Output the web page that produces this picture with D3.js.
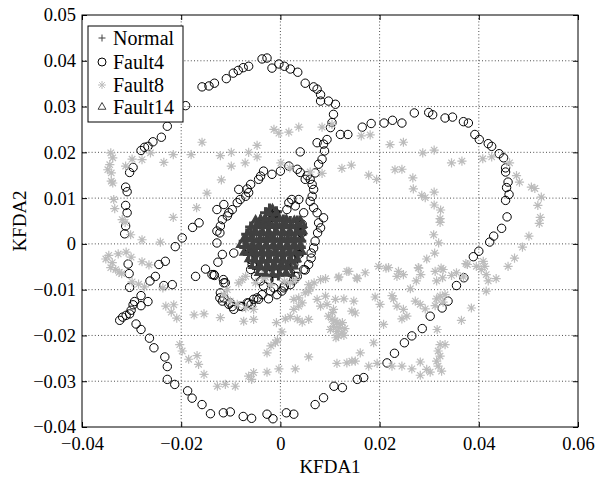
<!DOCTYPE html>
<html>
<head>
<meta charset="utf-8">
<script src="https://cdn.jsdelivr.net/npm/d3@7"></script>
<style>
  body { margin: 0; background: #fff; }
  svg text { font-family: "Liberation Serif", "Times New Roman", Times, "DejaVu Serif", "Noto Serif", serif; fill: #000; }
</style>
</head>
<body>
<div id="chart"></div>
<script>
// ticks
var xTicks = [-0.04, -0.02, 0, 0.02, 0.04, 0.06]
var xTickLabels = ["\u22120.04", "\u22120.02", "0", "0.02", "0.04", "0.06"]
var yTicks = [-0.04, -0.03, -0.02, -0.01, 0, 0.01, 0.02, 0.03, 0.04, 0.05]
var yTickLabels = ["\u22120.04", "\u22120.03", "\u22120.02", "\u22120.01", "0", "0.01", "0.02", "0.03", "0.04", "0.05"]
var seriesNames = ["Normal", "Fault4", "Fault8", "Fault14"]

// Normal (+)
var normal = [
  [-0.0030,0.0068],[-0.0017,0.0066],[-0.0022,0.0076],[-0.0008,0.0070],
  [-0.0040,0.0052],[-0.0030,0.0055],[-0.0022,0.0054],[-0.0008,0.0050],[0.0006,0.0052],[0.0020,0.0049],[0.0034,0.0050],
  [-0.0060,0.0037],[-0.0050,0.0038],[-0.0036,0.0035],[-0.0022,0.0038],[-0.0008,0.0036],[0.0006,0.0038],[0.0020,0.0035],[0.0034,0.0037],[0.0042,0.0036],
  [-0.0068,0.0021],[-0.0054,0.0023],[-0.0040,0.0020],[-0.0026,0.0023],[-0.0012,0.0021],[0.0002,0.0022],[0.0016,0.0020],[0.0030,0.0023],[0.0042,0.0021],
  [-0.0073,0.0006],[-0.0057,0.0008],[-0.0042,0.0005],[-0.0028,0.0007],[-0.0014,0.0006],[0.0000,0.0008],[0.0014,0.0005],[0.0028,0.0007],[0.0041,0.0006],
  [-0.0072,-0.0008],[-0.0054,-0.0010],[-0.0040,-0.0008],[-0.0026,-0.0009],[-0.0012,-0.0007],[0.0002,-0.0010],[0.0016,-0.0008],[0.0030,-0.0009],[0.0040,-0.0007],
  [-0.0064,-0.0023],[-0.0048,-0.0025],[-0.0034,-0.0022],[-0.0020,-0.0024],[-0.0006,-0.0023],[0.0008,-0.0025],[0.0022,-0.0023],[0.0036,-0.0024],
  [-0.0056,-0.0038],[-0.0040,-0.0040],[-0.0026,-0.0037],[-0.0012,-0.0039],[0.0002,-0.0038],[0.0016,-0.0040],[0.0030,-0.0038],
  [-0.0046,-0.0054],[-0.0030,-0.0056],[-0.0016,-0.0054],[-0.0002,-0.0055],[0.0012,-0.0053],[0.0022,-0.0052],
  [-0.0032,-0.0069],[-0.0018,-0.0071],[-0.0004,-0.0068]
]

// Fault4 (o)
var fault4 = [
  [-0.0281,0.0204],[-0.0274,0.0211],[-0.0267,0.0213],[-0.0257,0.0223],[-0.0240,0.0233],[-0.0228,0.0257],[-0.0191,0.0302],
  [-0.0297,0.0167],[-0.0304,0.0156],[-0.0312,0.0124],[-0.0309,0.0114],[-0.0312,0.0084],[-0.0309,0.0068],[-0.0312,0.0039],[-0.0314,0.0022],
  [-0.0307,-0.0044],[-0.0305,-0.0065],[-0.0304,-0.0095],
  [-0.0281,-0.0113],[-0.0294,-0.0126],[-0.0297,-0.0133],[-0.0267,-0.0126],[-0.0281,-0.0135],[-0.0301,-0.0145],[-0.0304,-0.0153],
  [-0.0311,-0.0156],[-0.0318,-0.0160],[-0.0324,-0.0167],[-0.0291,-0.0175],[-0.0281,-0.0187],[-0.0264,-0.0206],[-0.0255,-0.0227],
  [-0.0233,-0.0247],[-0.0228,-0.0268],[-0.0228,-0.0296],[-0.0213,-0.0307],[-0.0187,-0.0321],[-0.0178,-0.0337],[-0.0158,-0.0351],
  [-0.0141,-0.0371],[-0.0115,-0.0369],[-0.0101,-0.0367],[-0.0075,-0.0377],[-0.0058,-0.0381],[-0.0027,-0.0372],[-0.0015,-0.0382],
  [0.0012,-0.0369],[0.0027,-0.0372],[0.0070,-0.0351],[0.0087,-0.0336],[0.0108,-0.0311],[0.0125,-0.0314],[0.0155,-0.0296],
  [0.0168,-0.0292],[0.0215,-0.0260],[0.0230,-0.0239],[0.0250,-0.0216],[0.0265,-0.0201],[0.0286,-0.0185],[0.0302,-0.0158],
  [0.0326,-0.0140],[0.0338,-0.0125],[0.0355,-0.0091],[0.0370,-0.0074],[0.0389,-0.0028],[0.0400,-0.0016],[0.0422,0.0004],
  [0.0430,0.0017],[0.0446,0.0034],[0.0457,0.0059],[0.0454,0.0095],[0.0461,0.0108],[0.0456,0.0123],[0.0459,0.0135],
  [0.0454,0.0157],[0.0454,0.0166],[0.0450,0.0188],[0.0441,0.0197],[0.0426,0.0213],[0.0419,0.0219],[0.0401,0.0228],
  [0.0392,0.0239],[0.0379,0.0264],[0.0369,0.0267],[0.0347,0.0277],[0.0332,0.0275],[0.0307,0.0282],[0.0299,0.0287],
  [0.0270,0.0286],[0.0245,0.0264],[0.0226,0.0270],[0.0209,0.0264],[0.0183,0.0263],[0.0165,0.0255],[0.0136,0.0239],[0.0121,0.0239],
  [-0.0263,-0.0081],[-0.0252,-0.0071],[-0.0245,-0.0045],[-0.0232,-0.0038],[-0.0218,-0.0089],[-0.0235,-0.0091],[-0.0212,-0.0006],
  [-0.0198,0.0013],[-0.0177,0.0036],[-0.0164,0.0046],[-0.0171,-0.0071],
  [-0.0158,0.0343],[-0.0144,0.0345],[-0.0133,0.0351],[-0.0109,0.0361],[-0.0095,0.0373],[-0.0085,0.0379],[-0.0075,0.0385],
  [-0.0064,0.0388],[-0.0037,0.0404],[-0.0027,0.0406],[-0.0017,0.0384],[-0.0003,0.0393],[0.0008,0.0388],[0.0020,0.0382],
  [0.0035,0.0375],[0.0050,0.0351],[0.0067,0.0343],[0.0074,0.0338],[0.0081,0.0326],[0.0081,0.0312],[0.0097,0.0312],
  [0.0111,0.0305],[0.0107,0.0283],[0.0104,0.0265],[0.0101,0.0254],
  [0.0094,0.0228],[0.0074,0.0221],[0.0087,0.0218],[0.0089,0.0203],[0.0040,0.0201],[0.0084,0.0185],[0.0077,0.0174],
  [0.0070,0.0155],[0.0060,0.0141],[0.0064,0.0130],[0.0067,0.0119],[0.0064,0.0104],[0.0060,0.0093],[0.0067,0.0079],
  [0.0074,0.0068],[0.0087,0.0057],[0.0077,0.0046],[0.0081,0.0035],[0.0075,0.0024],[0.0070,0.0006],[0.0067,-0.0009],
  [0.0062,-0.0020],[0.0062,-0.0031],[0.0057,-0.0045],[0.0050,-0.0057],[0.0034,-0.0071],[0.0027,-0.0079],[0.0020,-0.0089],
  [0.0008,-0.0092],[0.0003,-0.0103],[-0.0013,-0.0096],[-0.0020,-0.0103],[-0.0024,-0.0120],[-0.0037,-0.0111],[-0.0044,-0.0121],
  [-0.0054,-0.0121],[-0.0059,-0.0132],[-0.0067,-0.0129],[-0.0077,-0.0137],[-0.0094,-0.0143],[-0.0097,-0.0137],[-0.0104,-0.0132],
  [-0.0117,-0.0125],[-0.0122,-0.0118],[-0.0114,-0.0085],[-0.0115,-0.0078],[-0.0133,-0.0069],[-0.0138,-0.0067],[-0.0151,-0.0055],
  [-0.0126,-0.0040],[-0.0117,-0.0023],[-0.0094,-0.0020],[-0.0128,0.0002],[-0.0122,0.0024],[-0.0121,0.0039],[-0.0117,0.0053],[-0.0128,0.0028],
  [-0.0107,0.0061],[-0.0104,0.0068],[-0.0097,0.0075],[-0.0128,0.0075],[-0.0114,0.0086],[-0.0087,0.0090],[-0.0081,0.0097],
  [-0.0070,0.0104],[-0.0064,0.0112],[-0.0084,0.0119],[-0.0067,0.0120],[-0.0060,0.0130],[-0.0044,0.0141],[-0.0040,0.0148],
  [-0.0034,0.0159],[-0.0017,0.0152],[0.0000,0.0159],[0.0017,0.0170],[0.0034,0.0163],[0.0040,0.0156],[0.0050,0.0141],[0.0054,0.0149],
  [0.0017,0.0090],[0.0023,0.0097],[0.0037,0.0097],[0.0030,0.0083],[0.0013,0.0075],[0.0047,0.0068],[0.0044,0.0043],
  [-0.0010,0.0068],[-0.0013,0.0061],[-0.0020,0.0057],[0.0043,0.0024],[0.0040,0.0044],[0.0037,-0.0023],[0.0027,-0.0045],
  [0.0020,-0.0063],[0.0030,-0.0071],[0.0047,-0.0056],[-0.0064,-0.0009],[-0.0060,-0.0034],[-0.0057,-0.0045],[-0.0060,-0.0056],
  [-0.0050,-0.0071],[-0.0040,-0.0081],[-0.0023,-0.0078],[-0.0013,-0.0060],[0.0007,-0.0096],[-0.0007,-0.0111],[-0.0034,-0.0092],
  [-0.0047,-0.0118],[-0.0064,-0.0129],[-0.0081,-0.0136],[-0.0101,-0.0129],[-0.0114,-0.0118],[-0.0121,-0.0107],[-0.0111,-0.0085],
  [-0.0134,-0.0067]
]

// Fault8 (*)
var fault8 = [
  [-0.0342,0.0199],[-0.0338,0.0188],[-0.0344,0.0173],[-0.0348,0.0162],[-0.0341,0.0155],[-0.0341,0.0137],[-0.0338,0.0133],
  [-0.0312,0.0170],[-0.0299,0.0185],[-0.0279,0.0184],[-0.0262,0.0199],[-0.0235,0.0178],[-0.0216,0.0195],[-0.0180,0.0195],
  [-0.0158,0.0222],[-0.0121,0.0193],[-0.0099,0.0200],[-0.0099,0.0170],[-0.0071,0.0177],[-0.0064,0.0200],[-0.0047,0.0215],
  [-0.0047,0.0190],[-0.0119,0.0140],[-0.0148,0.0111],[-0.0169,0.0079],[-0.0216,0.0058],[-0.0336,0.0097],[-0.0334,0.0077],
  [-0.0319,0.0053],[-0.0313,0.0047],[-0.0302,0.0020],[-0.0279,0.0009],[-0.0242,0.0004],
  [-0.0346,-0.0025],[-0.0352,-0.0033],[-0.0339,-0.0041],[-0.0342,-0.0052],[-0.0332,-0.0056],[-0.0325,-0.0062],[-0.0320,-0.0065],
  [-0.0327,-0.0022],[-0.0311,-0.0018],[-0.0301,-0.0029],[-0.0279,-0.0039],[-0.0265,-0.0046],[-0.0299,-0.0083],[-0.0286,-0.0088],
  [-0.0274,-0.0094],[-0.0237,-0.0096],[-0.0231,-0.0136],[-0.0215,-0.0133],[-0.0220,-0.0149],[-0.0209,-0.0162],[-0.0174,-0.0155],
  [-0.0154,-0.0153],[-0.0203,-0.0220],[-0.0198,-0.0234],[-0.0185,-0.0252],[-0.0168,-0.0244],[-0.0165,-0.0263],[-0.0154,-0.0285],
  [-0.0127,-0.0311],[-0.0111,-0.0307],[-0.0091,-0.0311],[-0.0064,-0.0289],[-0.0058,-0.0296],[-0.0054,-0.0281],[-0.0027,-0.0280],
  [-0.0003,-0.0273],[0.0030,-0.0273],[-0.0027,-0.0238],[-0.0019,-0.0223],[-0.0010,-0.0216],[-0.0006,-0.0210],[-0.0008,-0.0172],
  [0.0003,-0.0192],[0.0057,-0.0247],
  [-0.0121,-0.0161],[-0.0074,-0.0169],[-0.0054,-0.0165],[-0.0107,-0.0100],[-0.0114,-0.0111],[-0.0101,-0.0125],[-0.0087,-0.0132],
  [-0.0070,-0.0140],[-0.0054,-0.0143],[-0.0077,-0.0078],[-0.0084,-0.0085],[-0.0070,-0.0071],[-0.0034,-0.0063],[-0.0030,-0.0073],
  [0.0020,-0.0085],[0.0030,-0.0078],[0.0057,-0.0089],[0.0068,-0.0085],[0.0081,-0.0078],[0.0091,-0.0076],[0.0117,-0.0074],
  [0.0138,-0.0060],[0.0154,-0.0074],[0.0060,-0.0096],[0.0057,-0.0103],[0.0050,-0.0107],[0.0027,-0.0121],[0.0037,-0.0118],
  [0.0044,-0.0129],[0.0027,-0.0143],[0.0037,-0.0136],[0.0010,-0.0164],[0.0020,-0.0159],[0.0034,-0.0164],[0.0044,-0.0171],
  [0.0057,-0.0165],[0.0074,-0.0121],[0.0091,-0.0114],[0.0111,-0.0121],[0.0128,-0.0120],[0.0148,-0.0125],[0.0081,-0.0136],
  [0.0094,-0.0132],[0.0107,-0.0143],[0.0097,-0.0158],[0.0104,-0.0165],[0.0114,-0.0171],[0.0121,-0.0176],[0.0107,-0.0180],
  [0.0101,-0.0187],[0.0114,-0.0191],[0.0117,-0.0201],[0.0144,-0.0147],[0.0151,-0.0151],[0.0110,-0.0168],[0.0118,-0.0183],
  [0.0124,-0.0195],[0.0112,-0.0205],[0.0105,-0.0150],[0.0125,-0.0172],[0.0128,-0.0200],[0.0130,-0.0185],
  [-0.0050,-0.0085],[-0.0020,-0.0090],[0.0008,-0.0082],[-0.0034,-0.0075],[-0.0026,-0.0068],
  [0.0155,-0.0076],[0.0171,-0.0063],[0.0134,-0.0060],[0.0118,-0.0072],[0.0198,-0.0049],[0.0218,-0.0052],[0.0238,-0.0060],
  [0.0235,-0.0071],[0.0248,-0.0067],[0.0278,-0.0052],[0.0283,-0.0067],[0.0274,-0.0081],[0.0262,-0.0098],[0.0295,-0.0033],
  [0.0312,-0.0060],[0.0328,-0.0056],[0.0327,-0.0074],[0.0315,-0.0081],[0.0345,-0.0069],[0.0355,-0.0063],[0.0369,-0.0072],
  [0.0377,-0.0045],[0.0395,-0.0049],[0.0409,-0.0038],[0.0412,-0.0049],[0.0405,-0.0056],[0.0415,-0.0067],[0.0419,-0.0081],
  [0.0435,-0.0076],[0.0415,-0.0103],[0.0459,-0.0049],[0.0472,-0.0031],[0.0488,-0.0007],[0.0385,-0.0140],[0.0365,-0.0167],
  [0.0191,-0.0116],[0.0201,-0.0132],[0.0225,-0.0113],[0.0228,-0.0120],[0.0235,-0.0136],[0.0248,-0.0143],[0.0245,-0.0164],
  [0.0255,-0.0158],[0.0272,-0.0125],[0.0282,-0.0132],[0.0292,-0.0142],[0.0315,-0.0120],[0.0322,-0.0114],[0.0332,-0.0111],
  [0.0328,-0.0127],[0.0312,-0.0135],[0.0316,-0.0187],[0.0208,-0.0176],[0.0188,-0.0216],[0.0161,-0.0238],[0.0144,-0.0256],
  [0.0151,-0.0256],[0.0134,-0.0260],[0.0114,-0.0261],[0.0178,-0.0267],[0.0195,-0.0261],[0.0225,-0.0267],[0.0245,-0.0267],
  [0.0265,-0.0273],[0.0282,-0.0258],[0.0295,-0.0274],[0.0302,-0.0280],[0.0282,-0.0287],[0.0322,-0.0220],[0.0332,-0.0220],
  [0.0318,-0.0234],[0.0322,-0.0245],[0.0315,-0.0256],[0.0318,-0.0267],[0.0325,-0.0278],
  [0.0104,0.0261],[0.0163,0.0236],[0.0181,0.0238],[0.0221,0.0217],[0.0248,0.0222],[0.0287,0.0199],[0.0310,0.0205],
  [0.0345,0.0177],[0.0366,0.0181],[0.0408,0.0186],[0.0426,0.0190],[0.0462,0.0177],[0.0124,0.0165],[0.0143,0.0172],
  [0.0178,0.0150],[0.0194,0.0141],[0.0231,0.0162],[0.0245,0.0163],[0.0267,0.0144],[0.0268,0.0120],[0.0285,0.0106],
  [0.0292,0.0101],[0.0310,0.0113],[0.0310,0.0085],[0.0323,0.0074],[0.0322,0.0055],[0.0322,0.0047],[0.0309,0.0020],
  [0.0319,0.0002],[0.0311,-0.0020],[0.0476,0.0149],[0.0482,0.0135],[0.0506,0.0124],[0.0513,0.0121],[0.0526,0.0102],
  [0.0519,0.0084],[0.0524,0.0058],[0.0522,0.0045],[0.0501,0.0017],[0.0374,-0.0043],[0.0279,-0.0053],[0.0324,-0.0053],[0.0213,-0.0053],
  [-0.0013,0.0250],[-0.0003,0.0242],[0.0017,0.0244],[0.0037,0.0255],[0.0084,0.0255],[0.0001,0.0177],[0.0019,0.0166],
  [0.0060,0.0157],[0.0084,0.0154]
]

// Fault14 (triangle)
var fault14 = [
  [-0.0024,0.0062],[-0.0008,0.0060],[-0.0016,0.0070],
  [-0.0050,0.0045],[-0.0040,0.0047],[-0.0030,0.0044],[-0.0016,0.0046],[-0.0002,0.0045],[0.0012,0.0047],[0.0028,0.0044],[0.0040,0.0045],
  [-0.0058,0.0030],[-0.0044,0.0032],[-0.0030,0.0029],[-0.0016,0.0031],[-0.0002,0.0030],[0.0012,0.0032],[0.0026,0.0029],[0.0040,0.0031],
  [-0.0066,0.0014],[-0.0048,0.0016],[-0.0034,0.0015],[-0.0020,0.0013],[-0.0006,0.0016],[0.0008,0.0014],[0.0022,0.0015],[0.0036,0.0016],
  [-0.0075,0.0001],[-0.0062,0.0001],[-0.0048,-0.0001],[-0.0034,0.0000],[-0.0020,0.0002],[-0.0006,-0.0001],[0.0008,0.0000],[0.0022,0.0001],[0.0036,-0.0001],
  [-0.0068,-0.0016],[-0.0060,-0.0016],[-0.0046,-0.0014],[-0.0032,-0.0015],[-0.0018,-0.0016],[-0.0004,-0.0014],[0.0010,-0.0016],[0.0024,-0.0015],[0.0038,-0.0014],
  [-0.0058,-0.0030],[-0.0042,-0.0032],[-0.0028,-0.0031],[-0.0014,-0.0030],[0.0000,-0.0032],[0.0014,-0.0031],[0.0028,-0.0030],
  [-0.0050,-0.0045],[-0.0034,-0.0047],[-0.0020,-0.0046],[-0.0006,-0.0045],[0.0008,-0.0047],[0.0022,-0.0046],
  [-0.0038,-0.0060],[-0.0022,-0.0062],[-0.0008,-0.0061],[0.0006,-0.0060],[0.0016,-0.0062]
]

drawChart()

function drawChart() {
    var width = 596
    var height = 479
    var margin = {top: 15, right: 18, bottom: 52, left: 82}
    var w = width - margin.left - margin.right
    var h = height - margin.top - margin.bottom
    var serif = '"Liberation Serif", "Times New Roman", Times, "DejaVu Serif", "Noto Serif", serif'

    var svg = d3.select("#chart")
                .append("svg")
                .attr("width", width)
                .attr("height", height)
                .attr("font-family", serif)
                .style("background", "#fff")

    var g = svg.append("g")
               .attr("transform", `translate(${margin.left},${margin.top})`)

    var x = d3.scaleLinear().domain([-0.04, 0.06]).range([0, w])
    var y = d3.scaleLinear().domain([-0.04, 0.05]).range([h, 0])

    //grid punteado
    g.append("g")
     .selectAll("line")
     .data(xTicks.slice(1, -1))
     .enter()
     .append("line")
     .attr("x1", d => x(d)).attr("x2", d => x(d))
     .attr("y1", 0).attr("y2", h)
     .attr("stroke", "#222")
     .attr("stroke-width", 0.8)
     .attr("stroke-dasharray", "1,2.2")

    g.append("g")
     .selectAll("line")
     .data(yTicks.slice(1, -1))
     .enter()
     .append("line")
     .attr("x1", 0).attr("x2", w)
     .attr("y1", d => y(d)).attr("y2", d => y(d))
     .attr("stroke", "#222")
     .attr("stroke-width", 0.8)
     .attr("stroke-dasharray", "1,2.2")

    //marcadores
    var star = s => `M${-s},0H${s}M0,${-s}V${s}M${-0.7*s},${-0.7*s}L${0.7*s},${0.7*s}M${-0.7*s},${0.7*s}L${0.7*s},${-0.7*s}`
    var plus = s => `M${-s},0H${s}M0,${-s}V${s}`
    var tri = s => `M0,${-s}L${0.866*s},${0.5*s}L${-0.866*s},${0.5*s}Z`
    var dark = "#404040"
    var light = "#bcbcbc"

    g.append("g")
     .selectAll("path")
     .data(normal)
     .enter()
     .append("path")
     .attr("transform", d => `translate(${x(d[0])},${y(d[1])})`)
     .attr("d", plus(5.5))
     .attr("fill", "none")
     .attr("stroke", dark)
     .attr("stroke-width", 3)

    g.append("g")
     .selectAll("circle")
     .data(fault4)
     .enter()
     .append("circle")
     .attr("cx", d => x(d[0]))
     .attr("cy", d => y(d[1]))
     .attr("r", 4.2)
     .attr("fill", "none")
     .attr("stroke", "#000")
     .attr("stroke-width", 1)

    g.append("g")
     .selectAll("path")
     .data(fault8)
     .enter()
     .append("path")
     .attr("transform", d => `translate(${x(d[0])},${y(d[1])})`)
     .attr("d", star(4.6))
     .attr("fill", "none")
     .attr("stroke", light)
     .attr("stroke-width", 1.2)

    g.append("g")
     .selectAll("path")
     .data(fault14)
     .enter()
     .append("path")
     .attr("transform", d => `translate(${x(d[0])},${y(d[1])})`)
     .attr("d", tri(6.2))
     .attr("fill", "none")
     .attr("stroke", dark)
     .attr("stroke-width", 3)

    //ejes
    var fs = "18.5px"
    var xAxis = g.append("g")
                 .attr("transform", `translate(0,${h})`)
                 .call(d3.axisBottom(x).tickValues(xTicks).tickFormat((d, i) => xTickLabels[i]).tickSize(-5).tickPadding(10))
    var yAxis = g.append("g")
                 .call(d3.axisLeft(y).tickValues(yTicks).tickFormat((d, i) => yTickLabels[i]).tickSize(-5).tickPadding(6))
    var topAxis = g.append("g")
                   .call(d3.axisTop(x).tickValues(xTicks).tickFormat("").tickSize(-5))
    var rightAxis = g.append("g")
                     .attr("transform", `translate(${w},0)`)
                     .call(d3.axisRight(y).tickValues(yTicks).tickFormat("").tickSize(-5))

    ;[xAxis, yAxis, topAxis, rightAxis].forEach(a => {
        a.attr("font-family", serif)
        a.select(".domain").remove()
        a.selectAll("line").attr("stroke", "#000")
        a.selectAll("text")
         .attr("font-family", serif)
         .style("font-size", fs)
         .attr("fill", "#000")
    })

    //caja
    g.append("rect")
     .attr("x", 0).attr("y", 0)
     .attr("width", w).attr("height", h)
     .attr("fill", "none")
     .attr("stroke", "#000")
     .attr("stroke-width", 1)

    //titulos ejes
    svg.append("text")
       .attr("x", margin.left + w / 2)
       .attr("y", 473)
       .attr("text-anchor", "middle")
       .style("font-size", "19px")
       .text("KFDA1")

    svg.append("text")
       .attr("transform", `translate(26,${margin.top + h / 2}) rotate(-90)`)
       .attr("text-anchor", "middle")
       .style("font-size", "19px")
       .text("KFDA2")

    //leyenda
    var lg = svg.append("g").attr("transform", "translate(88,26)")
    lg.append("rect")
      .attr("width", 95).attr("height", 96)
      .attr("fill", "#fff")
      .attr("stroke", "#000")
      .attr("stroke-width", 1)

    var rows = [12, 36, 59, 81]
    var items = lg.selectAll("g.item")
                  .data(seriesNames)
                  .enter()
                  .append("g")
                  .attr("class", "item")
                  .attr("transform", (d, i) => `translate(14,${rows[i]})`)

    items.append("path")
         .attr("d", (d, i) => [plus(3.5), null, star(4), tri(4.5)][i])
         .attr("fill", "none")
         .attr("stroke", (d, i) => [dark, null, light, dark][i])
         .attr("stroke-width", 1)
    items.filter((d, i) => i === 1)
         .append("circle")
         .attr("r", 4)
         .attr("fill", "none")
         .attr("stroke", "#000")

    items.append("text")
         .attr("x", 11)
         .attr("dy", "0.35em")
         .style("font-size", "20px")
         .text(d => d)
}
</script>
</body>
</html>
